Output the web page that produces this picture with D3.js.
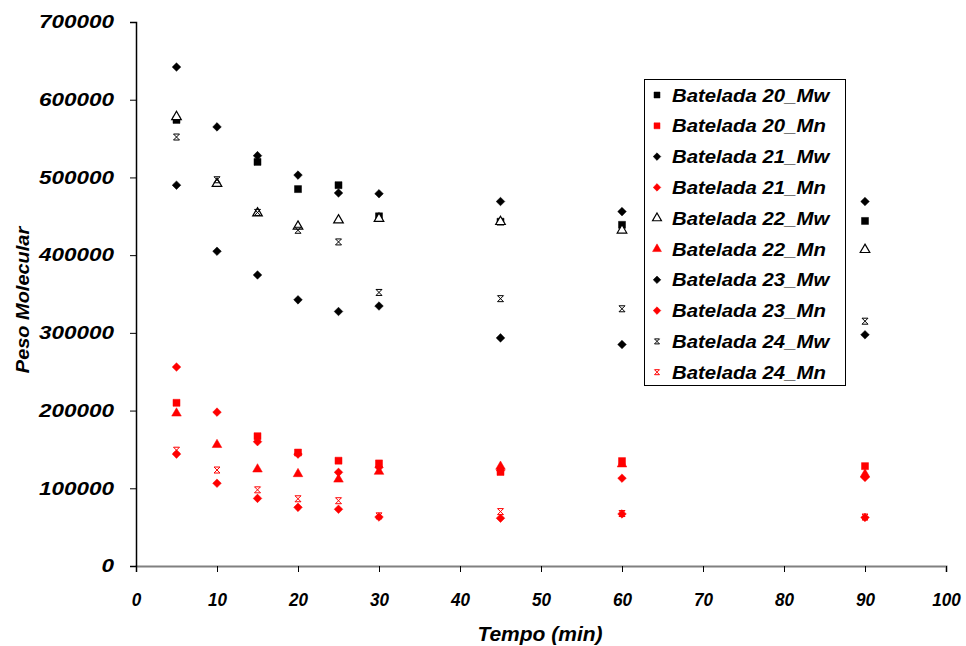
<!DOCTYPE html>
<html><head><meta charset="utf-8">
<script src="https://cdn.jsdelivr.net/npm/d3@7"></script>
<style>body{margin:0;background:#fff}svg{display:block}</style>
</head><body><svg id="c" width="966" height="646"></svg>
<script>
const times = [5, 10, 15, 20, 25, 30, 45, 60, 90];
const seriesNames = ["Batelada 20_Mw","Batelada 20_Mn","Batelada 21_Mw","Batelada 21_Mn","Batelada 22_Mw","Batelada 22_Mn","Batelada 23_Mw","Batelada 23_Mn","Batelada 24_Mw","Batelada 24_Mn"];
const b20Mw = [574000, null, 520000, 485000, 490000, 450000, 443000, 439000, 444000];
const b20Mn = [210000, null, 167000, 146000, 135500, 132000, 121000, 135000, 128500];
const b21Mw = [642000, 565000, 528000, 503000, 480000, 479000, 469000, 456000, 469000];
const b21Mn = [256000, 198000, 160000, 144000, 120500, 127000, 123000, 113000, 114000];
const b22Mw = [578000, 492000, 454000, 437000, 445000, 447000, 443000, 432000, 407000];
const b22Mn = [196500, 156000, 124500, 118500, 111500, 121500, 128000, 131000, 118000];
const b23Mw = [490000, 405000, 374500, 342500, 327500, 334500, 293500, 285000, 297500];
const b23Mn = [144000, 106500, 87000, 75500, 73000, 63000, 61500, 67000, 62500];
const b24Mw = [552000, 497000, 455000, 432000, 417000, 352000, 344000, 331000, 315000];
const b24Mn = [149000, 123500, 98000, 86500, 84000, 64500, 70000, 67500, 63000];
const xTicks = [0,10,20,30,40,50,60,70,80,90,100];
const yTicks = [0,100000,200000,300000,400000,500000,600000,700000];

const seriesValues = [b20Mw,b20Mn,b21Mw,b21Mn,b22Mw,b22Mn,b23Mw,b23Mn,b24Mw,b24Mn];
const styles = [
  {shape:"square", color:"#000", fill:true},
  {shape:"square", color:"#ff0000", fill:true},
  {shape:"diamond", color:"#000", fill:true},
  {shape:"diamond", color:"#ff0000", fill:true},
  {shape:"triangle", color:"#000", fill:false},
  {shape:"triangle", color:"#ff0000", fill:true},
  {shape:"diamond", color:"#000", fill:true},
  {shape:"diamond", color:"#ff0000", fill:true},
  {shape:"star", color:"#000", fill:false},
  {shape:"star", color:"#ff0000", fill:false}
];

const svg = d3.select("#c");
const font = "'Liberation Sans', Arial, sans-serif";
const x = d3.scaleLinear().domain([0,100]).range([136,946]);
const y = d3.scaleLinear().domain([0,700000]).range([566,22]);

function stretch(sel, factor) {
  sel.each(function() {
    const w = this.getComputedTextLength();
    d3.select(this).attr("textLength", w * factor).attr("lengthAdjust","spacingAndGlyphs");
  });
}

// axes
const gx = svg.append("g").attr("transform","translate(0,566)")
  .call(d3.axisBottom(x).tickValues(xTicks).tickSize(6).tickFormat(d3.format("d")));
gx.select(".domain").attr("stroke","#808080").attr("stroke-width",2);
gx.selectAll(".tick line").attr("stroke","#000");
gx.selectAll(".tick text").attr("font-family",font).attr("font-weight","bold").attr("font-style","italic")
  .attr("font-size",19).attr("fill","#000").attr("dy",null).attr("y",40);
stretch(gx.selectAll(".tick text"), 0.9);

const gy = svg.append("g").attr("transform","translate(136,0)")
  .call(d3.axisLeft(y).tickValues(yTicks).tickSize(6).tickFormat(d3.format("d")));
gy.select(".domain").attr("stroke","#000").attr("stroke-width",1.5);
gy.selectAll(".tick line").attr("stroke","#000");
gy.selectAll(".tick text").attr("font-family",font).attr("font-weight","bold").attr("font-style","italic")
  .attr("font-size",18).attr("fill","#000").attr("x",-22);
stretch(gy.selectAll(".tick text"), 1.25);

// axis titles
const xt = svg.append("text").attr("x",540).attr("y",641).attr("text-anchor","middle")
  .attr("font-family",font).attr("font-weight","bold").attr("font-style","italic").attr("font-size",20)
  .text("Tempo (min)");
stretch(xt, 1.05);
const yt = svg.append("text").attr("transform","translate(29,300) rotate(-90)").attr("text-anchor","middle")
  .attr("font-family",font).attr("font-weight","bold").attr("font-style","italic").attr("font-size",19)
  .text("Peso Molecular");
stretch(yt, 1.05);

function markerPath(shape, s) {
  const h = s/2;
  if (shape === "star") {
    return `M${-h},${-h}L${h},${h}M${h},${-h}L${-h},${h}M${-h},${-h}L${h},${-h}M${-h},${h}L${h},${h}`;
  }
  if (shape === "diamond") {
    const d = h + 0.8;
    return `M0,${-d}L${d},0L0,${d}L${-d},0Z`;
  }
  if (shape === "square") {
    return `M${-h},${-h}H${h}V${h}H${-h}Z`;
  }
  return d3.symbol().type(d3.symbolTriangle).size(40 * s / 7)();
}

function drawMarker(g, st, s) {
  const p = g.append("path").attr("d", markerPath(st.shape, s));
  if (st.shape === "star") {
    p.attr("fill","none").attr("stroke",st.color).attr("stroke-width",1);
  } else if (st.fill) {
    p.attr("fill",st.color).attr("stroke",st.color).attr("stroke-width",0.5);
  } else {
    p.attr("fill","#fff").attr("stroke",st.color).attr("stroke-width",1.2);
  }
}

// points
seriesValues.forEach((vals, i) => {
  const st = styles[i];
  const g = svg.append("g");
  vals.forEach((v, j) => {
    if (v == null) return;
    const m = g.append("g").attr("transform",`translate(${x(times[j])},${y(v)})`);
    drawMarker(m, st, st.shape === "star" ? 6 : 7);
  });
});

// legend
const lg = svg.append("g");
lg.append("rect").attr("x",644.5).attr("y",79.5).attr("width",201).attr("height",306)
  .attr("fill","#fff").attr("stroke","#000").attr("stroke-width",1);
seriesNames.forEach((n, i) => {
  const yy = 95 + i*30.8;
  const m = lg.append("g").attr("transform",`translate(657,${yy})`);
  drawMarker(m, styles[i], styles[i].shape === "star" ? 5 : 6);
  const t = lg.append("text").attr("x",672).attr("y",yy).attr("dy","0.36em")
    .attr("font-family",font).attr("font-weight","bold").attr("font-style","italic").attr("font-size",18.5)
    .text(n);
  stretch(t, 1.1);
});
</script></body></html>
